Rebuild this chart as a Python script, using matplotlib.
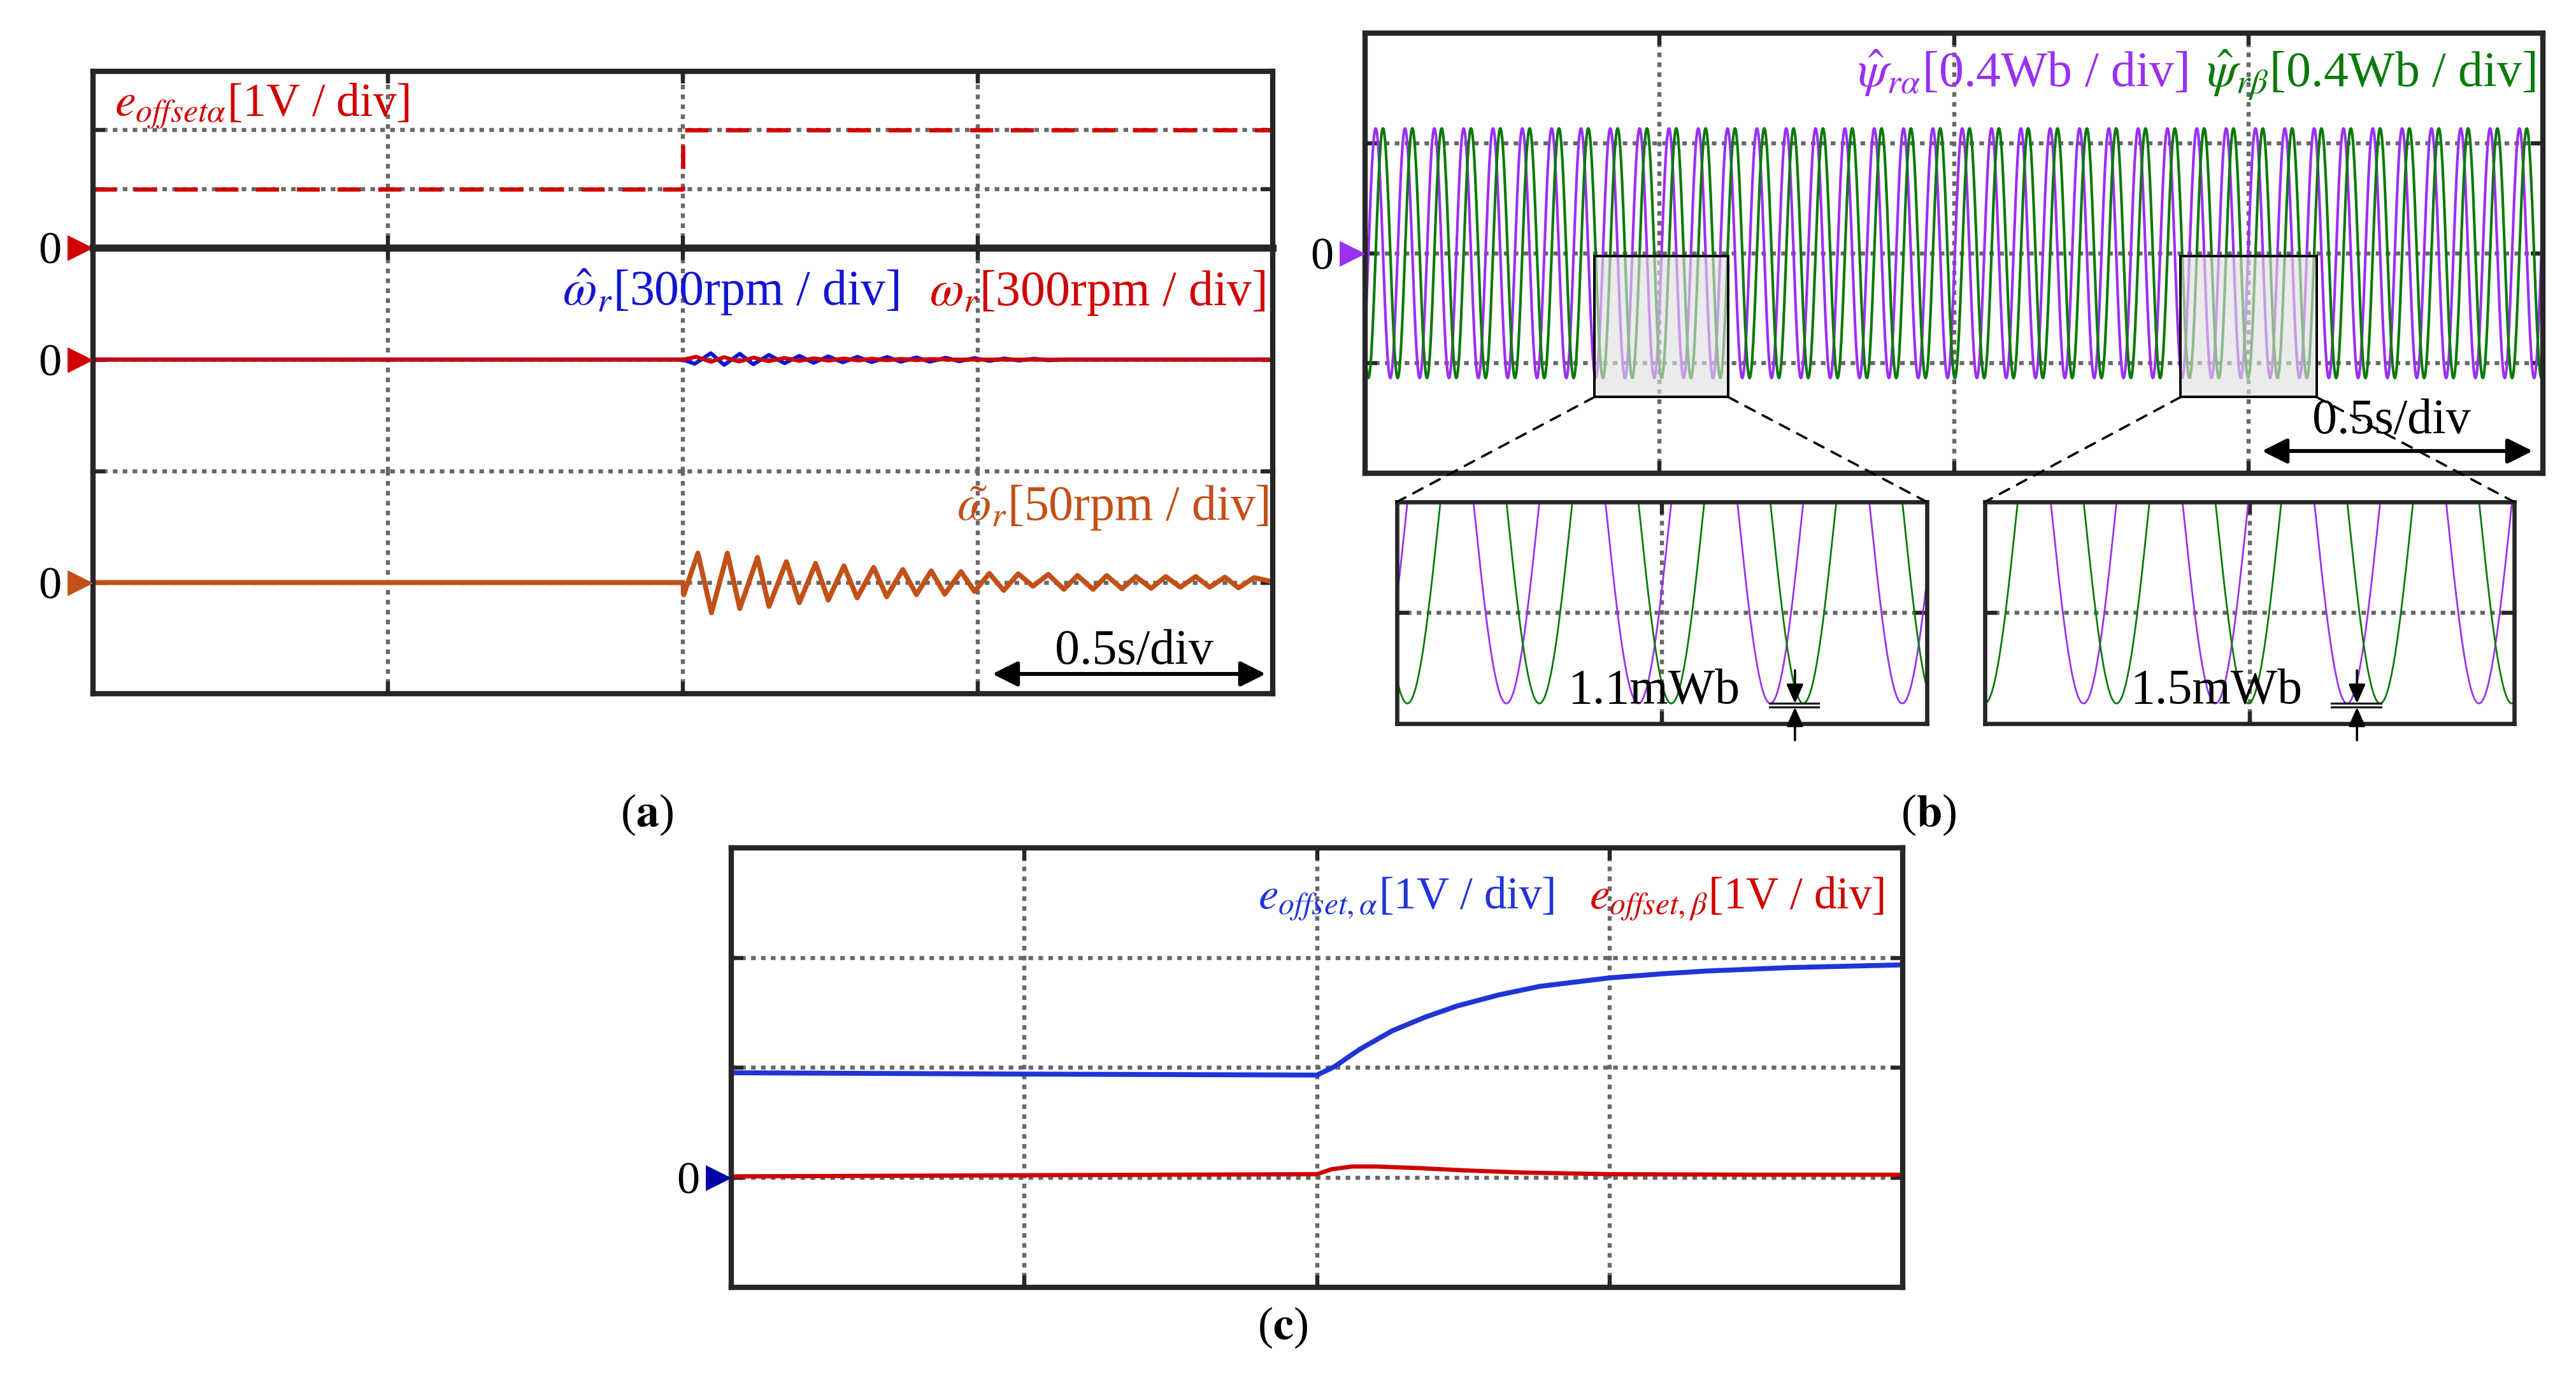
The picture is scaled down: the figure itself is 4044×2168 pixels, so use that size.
import numpy as np
import matplotlib
matplotlib.use('Agg')
import matplotlib.pyplot as plt
import matplotlib.transforms as mtransforms
from matplotlib.patches import Rectangle, FancyArrowPatch, ConnectionPatch

plt.rcParams['font.family'] = ['Liberation Serif', 'DejaVu Serif']
plt.rcParams['mathtext.fontset'] = 'stix'
plt.rcParams['lines.scale_dashes'] = False

W, H, DPI = 4044, 2168, 200

# ---------------- data (time in div, 0.5 s/div; values in div) ----------------
# (a) top: estimated offset e_offset,alpha (step at t = 2 div)
offset_t = [0.0, 2.0, 4.0]
offset_level = [1.0, 2.0, 2.0]

# (a) middle: estimated and actual speed
omega_hat_t = [0.0, 2.0, 2.04, 2.095, 2.14, 2.193, 2.239, 2.292, 2.345, 2.395, 2.443,
               2.493, 2.542, 2.592, 2.64, 2.693, 2.739, 2.792, 2.838, 2.891, 2.937,
               2.989, 3.04, 3.09, 3.14, 3.19, 3.24, 3.3, 4.0]
omega_hat = [0.0, 0.0, -0.038, 0.057, -0.048, 0.052, -0.042, 0.042, -0.033, 0.034, -0.029,
             0.029, -0.025, 0.025, -0.023, 0.023, -0.019, 0.019, -0.019, 0.017, -0.015,
             0.013, -0.012, 0.010, -0.009, 0.008, -0.006, 0.0, 0.0]
omega_t = [0.0, 2.0, 2.045, 2.095, 2.14, 2.19, 2.24, 2.29, 2.345, 2.395, 2.445, 2.495,
           2.545, 2.595, 2.64, 2.69, 2.74, 2.79, 2.84, 2.9, 4.0]
omega = [0.0, 0.0, 0.025, -0.02, 0.022, -0.018, 0.018, -0.015, 0.015, -0.012, 0.012,
         -0.01, 0.01, -0.008, 0.008, -0.006, 0.006, -0.005, 0.005, 0.0, 0.0]

# (a) bottom: speed error
err_t = [0.0, 2.0, 2.003, 2.051, 2.097, 2.151, 2.193, 2.253, 2.292, 2.351, 2.395, 2.45,
         2.493, 2.546, 2.591, 2.647, 2.691, 2.746, 2.792, 2.842, 2.888, 2.943, 2.989,
         3.039, 3.088, 3.137, 3.187, 3.239, 3.292, 3.338, 3.391, 3.437, 3.489, 3.536,
         3.588, 3.637, 3.687, 3.739, 3.786, 3.838, 3.884, 3.937, 3.989, 4.0]
err = [0.0, 0.0, -0.11, 0.264, -0.272, 0.264, -0.234, 0.226, -0.215, 0.188, -0.182, 0.172,
       -0.157, 0.149, -0.138, 0.136, -0.128, 0.117, -0.109, 0.105, -0.105, 0.098, -0.080,
       0.082, -0.071, 0.079, -0.033, 0.073, -0.061, 0.063, -0.061, 0.063, -0.056, 0.054,
       -0.052, 0.054, -0.042, 0.054, -0.042, 0.048, -0.048, 0.044, 0.013, 0.0]

# (b) estimated rotor flux: read amplitude, period and phase of the sinusoids
flux_amp = 1.134        # div (0.4 Wb/div)
flux_period = 0.0996    # div
flux_alpha_peak = 1.032 # div, time of a psi_alpha peak
zoom_windows = [(0.8, 1.2), (2.8, 3.2)]
zoom_boxes = [(0.779, 1.233), (2.770, 3.231)]
zoom_box_y = (-1.307, -0.027)
zoom_texts = ['1.1mWb', '1.5mWb']

# (c) estimated offsets
ealpha_t = [0.0, 1.0, 2.0, 2.06, 2.145, 2.257, 2.37, 2.48, 2.62, 2.76, 3.0, 3.18, 3.33, 3.61, 4.0]
ealpha = [0.953, 0.941, 0.932, 1.009, 1.165, 1.335, 1.46, 1.562, 1.661, 1.739, 1.817,
          1.854, 1.879, 1.910, 1.935]
ebeta_t = [0.0, 1.0, 2.0, 2.05, 2.12, 2.2, 2.35, 2.5, 2.7, 3.0, 3.5, 4.0]
ebeta = [0.01, 0.02, 0.03, 0.075, 0.10, 0.10, 0.085, 0.065, 0.045, 0.03, 0.025, 0.025]

# ---------------- styles ----------------
SPINE = '#262626'
GRID = '#686868'
GRID_LS = (0, (2.6, 3.0))
RED = '#d10000'
BLUE = '#1414d2'
BROWN = '#c25017'
PURPLE = '#9b30f0'
GREEN = '#0a7a0a'
BLUE_C = '#1f35d6'
FS = 28

fig = plt.figure(figsize=(W / DPI, H / DPI), dpi=DPI)


def fx(x):
    return x / W


def fy(y):
    return 1 - y / H


def scope_axes(x0, y0, x1, y1, xlim, ylim, xgrid, ygrid, spine_lw=3.0):
    ax = fig.add_axes([fx(x0), fy(y1), (x1 - x0) / W, (y1 - y0) / H])
    ax.set_xlim(*xlim)
    ax.set_ylim(*ylim)
    for g in xgrid:
        ax.axvline(g, color=GRID, lw=2.3, ls=GRID_LS, zorder=1)
    for g in ygrid:
        ax.axhline(g, color=GRID, lw=2.3, ls=GRID_LS, zorder=1, clip_on=False)
    ax.set_xticks(xgrid)
    ax.set_yticks(ygrid)
    ax.tick_params(direction='in', length=7, width=2.3, color=SPINE, top=True, right=True,
                   labelbottom=False, labelleft=False)
    for s in ax.spines.values():
        s.set_linewidth(spine_lw)
        s.set_color(SPINE)
        s.set_zorder(5)
    return ax


def zero_marker(ax, y, color):
    off = mtransforms.ScaledTranslation(-7.5 / 72, 0, fig.dpi_scale_trans)
    ax.plot([0], [y], marker='>', ms=13, color=color, ls='none', clip_on=False,
            transform=ax.get_yaxis_transform() + off, zorder=6)
    ax.annotate('0', xy=(0, y), xycoords=ax.get_yaxis_transform(), xytext=(-24.5, 0),
                textcoords='offset points', ha='center', va='center_baseline', fontsize=26)


def time_arrow(xa, xb, y, xt, yt):
    fig.text(fx(xt), fy(yt), '0.5s/div', ha='center', va='baseline', fontsize=FS)
    fig.add_artist(FancyArrowPatch((fx(xa), fy(y)), (fx(xb), fy(y)), transform=fig.transFigure,
                                   arrowstyle='<|-|>,head_length=12,head_width=6',
                                   mutation_scale=1, lw=2.2, color='black',
                                   shrinkA=0, shrinkB=0))


# ---------------- (a) ----------------
ax_a1 = scope_axes(146, 112, 1998, 389, (0, 4), (0, 3), [1, 2, 3], [1, 2])
ax_a2 = scope_axes(146, 389, 1998, 740, (0, 4), (-1, 1), [1, 2, 3], [0])
ax_a3 = scope_axes(146, 740, 1998, 1089, (0, 4), (-1, 1), [1, 2, 3], [0, 1])
ax_a1.spines['bottom'].set_linewidth(4.0)
ax_a2.spines['top'].set_linewidth(4.0)
ax_a2.spines['bottom'].set_visible(False)
ax_a2.tick_params(axis='x', bottom=False)
ax_a3.spines['top'].set_visible(False)
ax_a3.tick_params(axis='x', top=False)

ax_a1.plot(offset_t, offset_level, drawstyle='steps-post', color=RED, lw=2.4,
           ls=(0, (13, 10)), zorder=3)
ax_a2.plot(omega_hat_t, omega_hat, color=BLUE, lw=2.2, zorder=3)
ax_a2.plot(omega_t, omega, color=RED, lw=2.2, zorder=3)
ax_a3.plot(err_t, err, color=BROWN, lw=2.8, zorder=3)

zero_marker(ax_a1, 0, RED)
zero_marker(ax_a2, 0, RED)
zero_marker(ax_a3, 0, BROWN)

fig.text(fx(180), fy(183), r'$e_{offset\alpha}$[1V / div]', color=RED, fontsize=26.5,
         ha='left', va='baseline')
fig.text(fx(1412), fy(479), r'$\hat{\omega}_r$[300rpm / div]', color=BLUE, fontsize=FS,
         ha='right', va='baseline')
fig.text(fx(1987), fy(479), r'$\omega_r$[300rpm / div]', color=RED, fontsize=FS,
         ha='right', va='baseline')
fig.text(fx(1992), fy(816), r'$\tilde{\omega}_r$[50rpm / div]', color=BROWN, fontsize=FS,
         ha='right', va='baseline')
time_arrow(1558, 1987, 1058, 1780, 1042)
fig.text(fx(1016), fy(1279), r'($\mathbf{a}$)', fontsize=26, ha='center', va='center')

# ---------------- (b) ----------------
t_flux = np.linspace(0, 4, 6001)
psi_alpha = flux_amp * np.cos(2 * np.pi * (t_flux - flux_alpha_peak) / flux_period)
psi_beta = flux_amp * np.cos(2 * np.pi * (t_flux - flux_alpha_peak - flux_period / 4) / flux_period)

ax_b = scope_axes(2143, 52, 3992, 743, (0, 4), (-2, 2), [1, 2, 3], [-1, 0, 1])
ax_b.plot(t_flux, psi_alpha, color=PURPLE, lw=1.5, zorder=3)
ax_b.plot(t_flux, psi_beta, color=GREEN, lw=1.5, zorder=3)
zero_marker(ax_b, 0, PURPLE)
fig.text(fx(3435), fy(136), r'$\hat{\psi}_{r\alpha}$[0.4Wb / div]', color=PURPLE, fontsize=FS,
         ha='right', va='baseline')
fig.text(fx(3980), fy(136), r'$\hat{\psi}_{r\beta}$[0.4Wb / div]', color=GREEN, fontsize=FS,
         ha='right', va='baseline')

inset_px = [(2193, 788, 3025, 1136), (3116, 788, 3947, 1136)]
arrow_x = [0.751, 0.703]
text_x = [0.485, 0.437]
for (x0, y0, x1, y1), win, box, txt, axx, tx in zip(inset_px, zoom_windows, zoom_boxes,
                                                    zoom_texts, arrow_x, text_x):
    ylo = -flux_amp / 0.909
    ins = scope_axes(x0, y0, x1, y1, win, (ylo, 0), [(win[0] + win[1]) / 2], [ylo / 2],
                     spine_lw=2.4)
    m = (t_flux >= win[0] - 0.01) & (t_flux <= win[1] + 0.01)
    ins.plot(t_flux[m], psi_alpha[m], color=PURPLE, lw=1.0, zorder=3)
    ins.plot(t_flux[m], psi_beta[m], color=GREEN, lw=1.0, zorder=3)
    ins.text(tx, 0.09, txt, transform=ins.transAxes, ha='center', va='baseline',
             fontsize=FS, zorder=7)
    y_lines = [1 - flux_amp / -ylo, 1 - flux_amp / -ylo - 0.017]
    for yl in y_lines:
        ins.plot([axx - 0.048, axx + 0.045], [yl, yl], transform=ins.transAxes, color='black',
                 lw=1.1, clip_on=False, zorder=7)
    ins.annotate('', xy=(axx, y_lines[0]), xycoords='axes fraction', xytext=(axx, 0.24),
                 textcoords='axes fraction',
                 arrowprops=dict(arrowstyle='-|>,head_length=9,head_width=4', mutation_scale=1,
                                 lw=1.3, color='black', shrinkA=0, shrinkB=0), zorder=7)
    ins.annotate('', xy=(axx, y_lines[1]), xycoords='axes fraction', xytext=(axx, -0.075),
                 textcoords='axes fraction',
                 arrowprops=dict(arrowstyle='-|>,head_length=9,head_width=4', mutation_scale=1,
                                 lw=1.3, color='black', shrinkA=0, shrinkB=0), zorder=7)

    ax_b.add_patch(Rectangle((box[0], zoom_box_y[0]), box[1] - box[0], zoom_box_y[1] - zoom_box_y[0],
                             facecolor=(0.88, 0.88, 0.88, 0.62), edgecolor='black', lw=1.4,
                             zorder=4))
    for xa, xb in [(box[0], 0), (box[1], 1)]:
        con = ConnectionPatch(xyA=(xa, zoom_box_y[0]), coordsA=ax_b.transData,
                              xyB=(xb, 1), coordsB=ins.transAxes, color='black', lw=1.3,
                              ls=(0, (6, 5)), zorder=8)
        fig.add_artist(con)

time_arrow(3551, 3976, 708, 3754, 680)
fig.text(fx(3028), fy(1279), r'($\mathbf{b}$)', fontsize=26, ha='center', va='center')

# ---------------- (c) ----------------
ax_c = scope_axes(1148, 1331, 2987, 2021, (0, 4), (-1, 3), [1, 2, 3], [0, 1, 2])
ax_c.plot(ealpha_t, ealpha, color=BLUE_C, lw=2.8, zorder=3)
ax_c.plot(ebeta_t, ebeta, color=RED, lw=2.4, zorder=3)
zero_marker(ax_c, 0, '#0000a8')
fig.text(fx(2440), fy(1427), r'$e_{offset,\alpha}$[1V / div]', color=BLUE_C, fontsize=25.5,
         ha='right', va='baseline')
fig.text(fx(2958), fy(1427), r'$e_{offset,\beta}$[1V / div]', color=RED, fontsize=25.5,
         ha='right', va='baseline')
fig.text(fx(2014), fy(2084), r'($\mathbf{c}$)', fontsize=26, ha='center', va='center')

fig.savefig('out.png', dpi=DPI)
plt.close(fig)
